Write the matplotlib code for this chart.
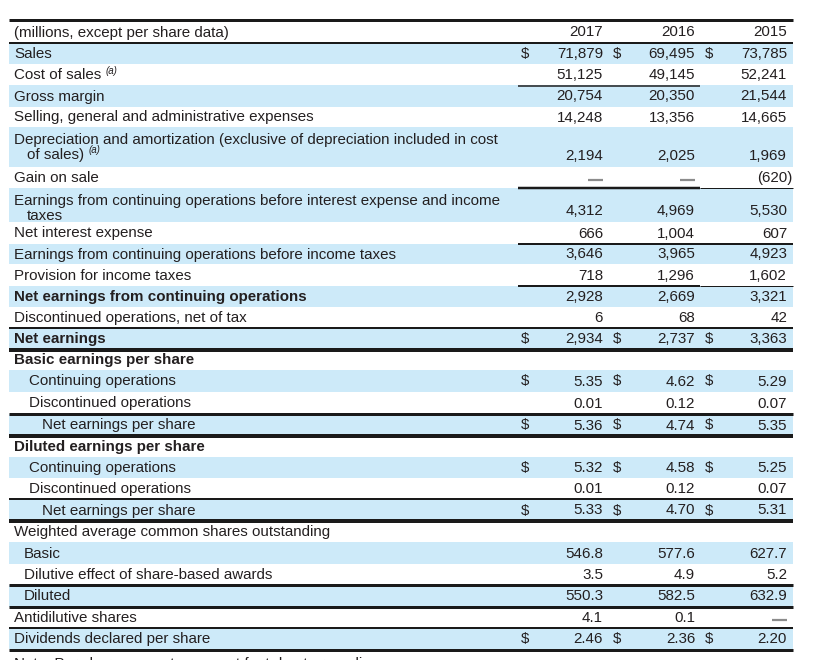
import matplotlib.pyplot as plt

plt.rcParams['font.family'] = ['Liberation Sans', 'DejaVu Sans']

TEXT = '#231f20'
SHADE = '#cdeaf9'
DASH = '#8c8c8c'

years = ["2017", "2016", "2015"]

labels = [
    "Sales", "Cost of sales", "Gross margin",
    "Selling, general and administrative expenses",
    "Depreciation and amortization (exclusive of depreciation included in cost\nof sales)",
    "Gain on sale",
    "Earnings from continuing operations before interest expense and income\ntaxes",
    "Net interest expense",
    "Earnings from continuing operations before income taxes",
    "Provision for income taxes",
    "Net earnings from continuing operations",
    "Discontinued operations, net of tax",
    "Net earnings",
    "Basic earnings per share", "Continuing operations", "Discontinued operations",
    "Net earnings per share",
    "Diluted earnings per share", "Continuing operations", "Discontinued operations",
    "Net earnings per share",
    "Weighted average common shares outstanding", "Basic",
    "Dilutive effect of share-based awards", "Diluted",
    "Antidilutive shares", "Dividends declared per share",
]

v2017 = ["71,879", "51,125", "20,754", "14,248", "2,194", "—", "4,312", "666",
         "3,646", "718", "2,928", "6", "2,934", "", "5.35", "0.01", "5.36", "",
         "5.32", "0.01", "5.33", "", "546.8", "3.5", "550.3", "4.1", "2.46"]
v2016 = ["69,495", "49,145", "20,350", "13,356", "2,025", "—", "4,969", "1,004",
         "3,965", "1,296", "2,669", "68", "2,737", "", "4.62", "0.12", "4.74", "",
         "4.58", "0.12", "4.70", "", "577.6", "4.9", "582.5", "0.1", "2.36"]
v2015 = ["73,785", "52,241", "21,544", "14,665", "1,969", "(620)", "5,530", "607",
         "4,923", "1,602", "3,321", "42", "3,363", "", "5.29", "0.07", "5.35", "",
         "5.25", "0.07", "5.31", "", "627.7", "5.2", "632.9", "—", "2.20"]

dollar_idx = {0, 12, 14, 16, 18, 20, 26}
footnote_idx = {1, 4}
bold_idx = {10, 12, 13, 17}
indent = {14: 29, 15: 29, 16: 42, 18: 29, 19: 29, 20: 42, 22: 24, 23: 24, 24: 24}

# row boundaries (pixels from top)
bounds = [43, 64, 85, 107, 127, 167, 188, 222, 244, 264, 286, 307, 328, 349,
          370, 392, 414, 436, 457, 478, 499, 521, 542, 564, 585, 607, 628, 649]

val_x = [603, 695, 787]
dol_x = [525, 617, 709]
X0, X1 = 9, 793
FS = 10.9

fig = plt.figure(figsize=(8.13, 6.6), dpi=100)
ax = fig.add_axes([0, 0, 1, 1])
ax.set_xlim(0, 813)
ax.set_ylim(660, 0)
ax.axis('off')

# header
ax.text(14, 32.5, "(millions, except per share data)", fontsize=FS, color=TEXT,
        va='center')
for x, y in zip(val_x, years):
    ax.text(x, 32.5, y, fontsize=FS, color=TEXT, va='center', ha='right')

for i, lab in enumerate(labels):
    top, bot = bounds[i], bounds[i + 1]
    if i % 2 == 0:
        ax.axhspan(top, bot, xmin=X0 / 813, xmax=X1 / 813, color=SHADE, lw=0, zorder=0)
    weight = 'bold' if i in bold_idx else 'normal'
    x = indent.get(i, 14)
    lines = lab.split("\n")
    if len(lines) == 1:
        yc = (top + bot) / 2 + 0.5
        t = ax.text(x, yc, lab, fontsize=FS, color=TEXT, va='center', weight=weight)
        vy = yc
    else:
        ax.text(x, top + 13, lines[0], fontsize=FS, color=TEXT, va='center')
        t = ax.text(x + 13, top + 27.5, lines[1], fontsize=FS, color=TEXT, va='center')
        vy = bot - 11
    if i in footnote_idx:
        ax.annotate("(a)", xy=(1, 1), xycoords=t, xytext=(3, 1.5),
                    textcoords='offset points', fontsize=7, style='italic',
                    color=TEXT, va='top')
    vals = [v2017[i], v2016[i], v2015[i]]
    for k, v in enumerate(vals):
        if v == "—":
            ax.plot([val_x[k] - 15, val_x[k]], [vy + 1.5, vy + 1.5], color=DASH,
                    lw=1.6, solid_capstyle='butt')
        elif v.endswith(")"):
            ax.text(val_x[k] + 5, vy, v, fontsize=FS, color=TEXT, va='center', ha='right')
        else:
            ax.text(val_x[k], vy, v, fontsize=FS, color=TEXT, va='center', ha='right')
        if i in dollar_idx:
            ax.text(dol_x[k], vy, "$", fontsize=FS, color=TEXT, va='center', ha='center')

# rules: (y, x start, x end, width px)
rules = [
    (20, X0, X1, 3), (43, X0, X1, 2),
    (85.5, 518, 700, 1.5),
    (188, 518, 700, 2.5), (188, 700, X1, 1),
    (244, 518, X1, 2),
    (286, 518, 700, 2), (286, 700, X1, 1),
    (328, X0, X1, 2), (349.5, X0, X1, 4),
    (414, X0, X1, 3), (436, X0, X1, 4),
    (499, X0, X1, 2), (521, X0, X1, 4),
    (585, X0, X1, 3), (607, X0, X1, 3),
    (628, X0, X1, 2), (649.5, X0, X1, 3),
]
for y, xa, xb, w in rules:
    ax.plot([xa, xb], [y, y], color='#1a1a1a', lw=w * 0.72, solid_capstyle='butt')

ax.text(14, 664, "Note: Per share amounts may not foot due to rounding.",
        fontsize=FS, color=TEXT, va='center')

fig.savefig("out.png", dpi=100)
